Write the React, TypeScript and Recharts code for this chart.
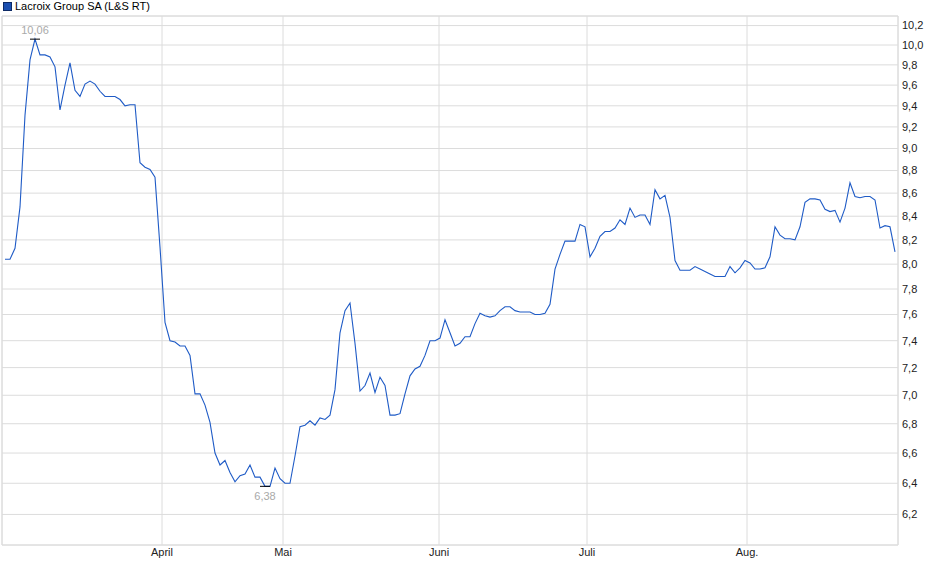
import React from "react";
import {
  CartesianGrid,
  Line,
  LineChart,
  ReferenceArea,
  XAxis,
  YAxis,
} from "recharts";

// one value per step of the chart (L&S RT quotes)
const prices = [
  8.04, 8.04, 8.13, 8.48, 9.31, 9.85, 10.06, 9.9, 9.9, 9.88,
  9.78, 9.36, 9.6, 9.82, 9.55, 9.49, 9.61, 9.64, 9.61, 9.54,
  9.49, 9.49, 9.49, 9.46, 9.4, 9.41, 9.41, 8.87, 8.83, 8.81,
  8.74, 8.14, 7.54, 7.4, 7.39, 7.36, 7.36, 7.29, 7.01, 7.01,
  6.93, 6.81, 6.6, 6.52, 6.55, 6.47, 6.41, 6.45, 6.46, 6.52,
  6.44, 6.44, 6.38, 6.38, 6.5, 6.43, 6.4, 6.4, 6.58, 6.78,
  6.79, 6.82, 6.79, 6.84, 6.83, 6.86, 7.04, 7.46, 7.63, 7.69,
  7.38, 7.03, 7.07, 7.16, 7.02, 7.13, 7.07, 6.86, 6.86, 6.87,
  7.01, 7.14, 7.19, 7.21, 7.29, 7.4, 7.4, 7.42, 7.56, 7.46,
  7.36, 7.38, 7.43, 7.43, 7.53, 7.61, 7.59, 7.58, 7.59, 7.63,
  7.66, 7.66, 7.63, 7.62, 7.62, 7.62, 7.6, 7.6, 7.61, 7.68,
  7.96, 8.08, 8.19, 8.19, 8.19, 8.33, 8.31, 8.06, 8.13, 8.23,
  8.27, 8.27, 8.3, 8.37, 8.33, 8.47, 8.39, 8.41, 8.41, 8.33,
  8.63, 8.55, 8.58, 8.39, 8.03, 7.95, 7.95, 7.95, 7.98, 7.96,
  7.94, 7.92, 7.9, 7.9, 7.9, 7.98, 7.93, 7.97, 8.03, 8.01,
  7.96, 7.96, 7.97, 8.06, 8.31, 8.24, 8.21, 8.21, 8.2, 8.31,
  8.52, 8.55, 8.55, 8.54, 8.46, 8.44, 8.45, 8.35, 8.47, 8.69,
  8.57, 8.56, 8.57, 8.57, 8.54, 8.3, 8.32, 8.31, 8.1,
];

// month starts, as positions on the step axis
const monthTicks = [31.4, 55.6, 86.8, 116.4, 148.4];
const monthLabels = ["April", "Mai", "Juni", "Juli", "Aug."];

const priceTicks = [
  6.2, 6.4, 6.6, 6.8, 7.0, 7.2, 7.4, 7.6, 7.8, 8.0, 8.2, 8.4, 8.6, 8.8, 9.0,
  9.2, 9.4, 9.6, 9.8, 10.0, 10.2,
];

const X_DOMAIN: [number, number] = [-0.6, prices.length - 0.4];
const Y_DOMAIN: [number, number] = [6.01, 10.3];

const FONT = '"Liberation Sans", Arial, sans-serif';
const GRID = "#dcdcdc";
const BLUE = "#1f5bc6";

const data = prices.map((v, i) => ({ i, v }));
const maxIdx = prices.indexOf(Math.max(...prices));
const minIdx = prices.indexOf(Math.min(...prices));

const comma = (n: number, d: number) => n.toFixed(d).replace(".", ",");

function renderExtreme(p: any) {
  const key = `m${p.index}`;
  if (p.index !== maxIdx && p.index !== minIdx) return <g key={key} />;
  const isMax = p.index === maxIdx;
  return (
    <g key={key}>
      <line x1={p.cx - 5} x2={p.cx + 5} y1={p.cy} y2={p.cy} stroke="#000" strokeWidth={1} />
      <text
        x={p.cx}
        y={isMax ? p.cy - 5 : p.cy + 14}
        textAnchor="middle"
        fontSize={11}
        fontFamily={FONT}
        fill="#a9a9a9"
      >
        {comma(p.value, 2)}
      </text>
    </g>
  );
}

export default function App() {
  return (
    <div style={{ position: "absolute", left: 0, top: 0, width: 940, height: 579, background: "#fff" }}>
      <div
        style={{
          position: "absolute",
          left: 3,
          top: 0,
          fontFamily: FONT,
          fontSize: 11,
          lineHeight: "12px",
          color: "#000",
          display: "flex",
          alignItems: "center",
        }}
      >
        <span
          style={{
            display: "inline-block",
            width: 7,
            height: 7,
            background: "#1b4fb0",
            border: "1px solid #0d2a66",
            marginRight: 3,
          }}
        />
        Lacroix Group SA (L&amp;S RT)
      </div>
      <LineChart width={940} height={579} data={data} margin={{ top: 16, right: 0, bottom: 4, left: 2 }}>
        <CartesianGrid stroke={GRID} strokeWidth={1} />
        <XAxis
          dataKey="i"
          type="number"
          domain={X_DOMAIN}
          ticks={monthTicks}
          tickFormatter={(t) => monthLabels[monthTicks.indexOf(t)] ?? ""}
          axisLine={false}
          tickLine={false}
          tickSize={1}
          tickMargin={2}
          height={30}
          interval={0}
          tick={{ fontSize: 11, fontFamily: FONT, fill: "#222" }}
        />
        <YAxis
          orientation="right"
          scale="log"
          domain={Y_DOMAIN}
          ticks={priceTicks}
          allowDataOverflow
          tickFormatter={(v) => comma(v, 1)}
          axisLine={false}
          tickLine={false}
          tickSize={2}
          tickMargin={2}
          width={42}
          interval={0}
          tick={{ fontSize: 11, fontFamily: FONT, fill: "#222" }}
        />
        <ReferenceArea
          x1={X_DOMAIN[0]}
          x2={X_DOMAIN[1]}
          y1={Y_DOMAIN[0]}
          y2={Y_DOMAIN[1]}
          fill="none"
          stroke={GRID}
          strokeWidth={1}
          ifOverflow="visible"
        />
        <Line
          type="linear"
          dataKey="v"
          stroke={BLUE}
          strokeWidth={1.1}
          dot={renderExtreme}
          activeDot={false}
          isAnimationActive={false}
        />
      </LineChart>
    </div>
  );
}
